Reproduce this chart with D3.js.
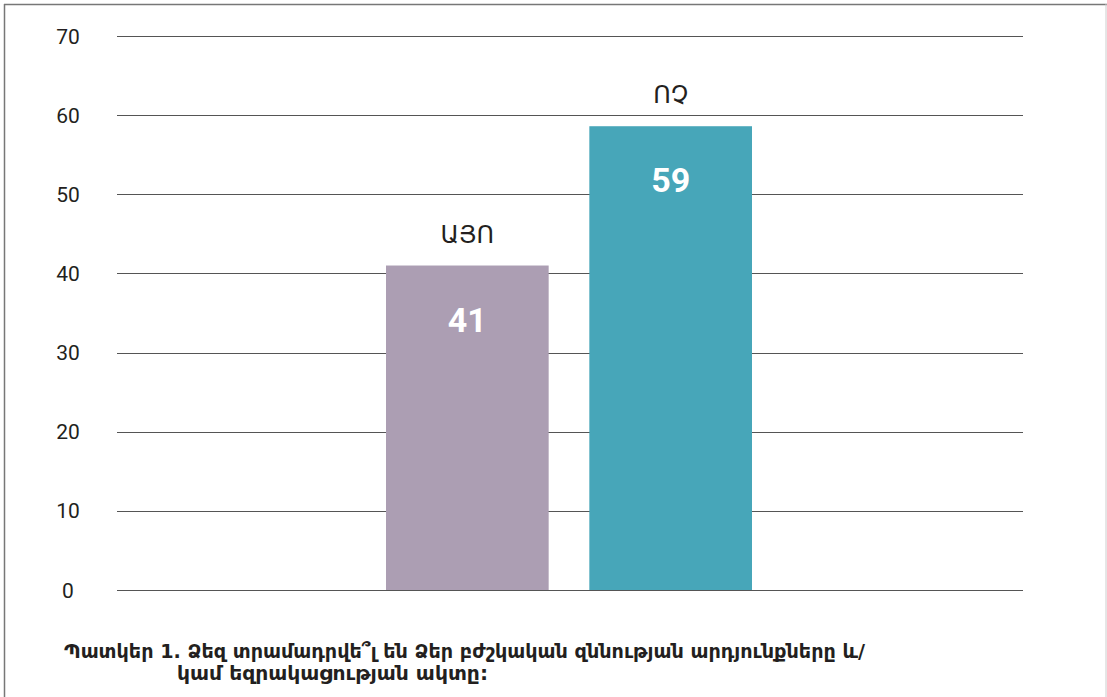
<!DOCTYPE html>
<html><head><meta charset="utf-8">
<script src="https://cdn.jsdelivr.net/npm/d3@7"></script>
<style>body{margin:0;background:#fff}svg{display:block}</style>
</head><body>
<script>
const categories = ["ԱՅՈ", "ՈՉ"];
const values = [41, 58.6];
const valueLabels = ["41", "59"];
const colors = ["#ac9eb3", "#47a6b9"];
const yTicks = [0, 10, 20, 30, 40, 50, 60, 70];
const captionLines = ["Պատկեր 1. Ձեզ տրամադրվե՞լ են Ձեր բժշկական զննության արդյունքները և/", "կամ եզրակացության ակտը:"];

const W = 1107, H = 697;
const svg = d3.select("body").append("svg").attr("width", W).attr("height", H);

// frame
svg.append("line").attr("x1", 4.5).attr("x2", 4.5).attr("y1", 4).attr("y2", H).attr("stroke", "#777").attr("stroke-width", 1.5);
svg.append("line").attr("x1", 4).attr("x2", W).attr("y1", 4.5).attr("y2", 4.5).attr("stroke", "#777").attr("stroke-width", 1.5);
svg.append("line").attr("x1", 1106).attr("x2", 1106).attr("y1", 4).attr("y2", H).attr("stroke", "#ccc").attr("stroke-width", 1);

const y = d3.scaleLinear().domain([0, 70]).range([590, 36]);
const x = d3.scaleBand().domain(categories).range([386, 752]).paddingInner(0.2).paddingOuter(0);

// gridlines
svg.append("g").selectAll("line").data(yTicks).join("line")
  .attr("x1", 117).attr("x2", 1023)
  .attr("y1", d => Math.round(y(d)) + 0.5).attr("y2", d => Math.round(y(d)) + 0.5)
  .attr("stroke", "#555").attr("stroke-width", 1);

// tick labels
svg.append("g").selectAll("text").data(yTicks).join("text")
  .attr("x", 68).attr("y", d => y(d)).attr("dy", "0.36em")
  .attr("text-anchor", "middle")
  .attr("font-family", "Roboto, 'Noto Sans', sans-serif").attr("font-size", 21).attr("fill", "#231f20")
  .text(d => d);

// bars
svg.append("g").selectAll("rect").data(values).join("rect")
  .attr("x", (d, i) => x(categories[i]))
  .attr("width", x.bandwidth())
  .attr("y", d => y(d))
  .attr("height", d => y(0) - y(d))
  .attr("fill", (d, i) => colors[i]);

// category labels above bars
svg.append("g").selectAll("text").data(values).join("text")
  .attr("x", (d, i) => x(categories[i]) + x.bandwidth() / 2)
  .attr("y", d => y(d) - 23)
  .attr("text-anchor", "middle")
  .attr("font-family", "'Noto Sans', 'DejaVu Sans', sans-serif").attr("font-size", 24).attr("fill", "#231f20")
  .text((d, i) => categories[i]);

// value labels inside bars
svg.append("g").selectAll("text").data(values).join("text")
  .attr("x", (d, i) => x(categories[i]) + x.bandwidth() / 2)
  .attr("y", d => y(d) + 66)
  .attr("text-anchor", "middle")
  .attr("font-family", "Roboto, 'Noto Sans', sans-serif").attr("font-weight", "bold").attr("font-size", 34).attr("fill", "#fff")
  .text((d, i) => valueLabels[i]);

// caption
const capFont = "'DejaVu Sans Condensed', 'DejaVu Sans', sans-serif";
const cap1 = svg.append("text").attr("x", 64).attr("y", 658)
  .attr("font-family", capFont).attr("font-weight", "bold").attr("font-size", 20).attr("fill", "#231f20")
  .text(captionLines[0]);
const cap2 = svg.append("text").attr("x", 177).attr("y", 680)
  .attr("font-family", capFont).attr("font-weight", "bold").attr("font-size", 20).attr("fill", "#231f20")
  .text(captionLines[1]);
cap1.attr("textLength", 801).attr("lengthAdjust", "spacingAndGlyphs");
cap2.attr("textLength", 311).attr("lengthAdjust", "spacingAndGlyphs");
</script>
</body></html>
